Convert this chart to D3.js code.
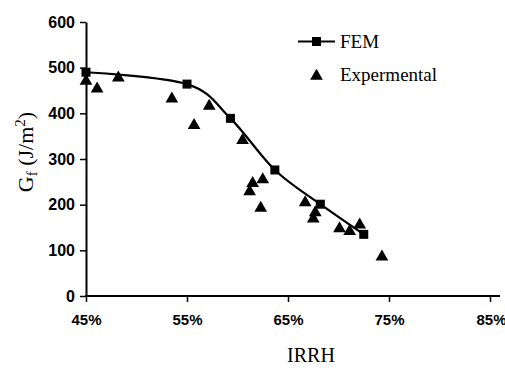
<!DOCTYPE html>
<html>
<head>
<meta charset="utf-8">
<script src="https://cdn.jsdelivr.net/npm/d3@7"></script>
<style>
  html, body { margin: 0; padding: 0; background: #fff; }
  svg { display: block; }
</style>
</head>
<body>
<svg id="chart" width="505" height="368"></svg>
<script>
// ---- data ----
const femX = [0.45, 0.55, 0.593, 0.637, 0.682, 0.725];
const femY = [490, 464, 389, 276, 201, 135];

const expX = [0.450, 0.461, 0.482, 0.535, 0.557, 0.572, 0.605, 0.625, 0.615, 0.612, 0.623, 0.667, 0.677, 0.675, 0.701, 0.711, 0.721, 0.743];
const expY = [474, 457, 481, 435, 377, 419, 344, 258, 250, 232, 196, 208, 186, 172, 151, 145, 159, 89];

const xTicks = [0.45, 0.55, 0.65, 0.75, 0.85];
const yTicks = [0, 100, 200, 300, 400, 500, 600];
const seriesNames = ["FEM", "Expermental"];

// ---- layout ----
const svg = d3.select("#chart");
const x = d3.scaleLinear().domain([0.45, 0.85]).range([86, 490]);
const y = d3.scaleLinear().domain([0, 600]).range([296, 22]);

const tickFont = "'Liberation Sans', Arial, sans-serif";
const serif = "'Liberation Serif', 'Times New Roman', serif";

// Y axis
const yAxis = svg.append("g")
  .attr("transform", `translate(${x(0.45)},0)`)
  .call(d3.axisLeft(y).tickValues(yTicks).tickSize(6).tickSizeOuter(0).tickPadding(5));
yAxis.select(".domain").attr("stroke", "#000").attr("stroke-width", 2);
yAxis.selectAll(".tick line").attr("stroke", "#000").attr("stroke-width", 1.5);
yAxis.selectAll(".tick text")
  .attr("font-family", tickFont).attr("font-size", 16).attr("font-weight", "bold")
  .attr("fill", "#000");

// X axis
const xAxis = svg.append("g")
  .attr("transform", `translate(0,${y(0)})`)
  .call(d3.axisBottom(x).tickValues(xTicks).tickFormat(d3.format(".0%")).tickSize(6).tickSizeOuter(0).tickPadding(12));
xAxis.select(".domain").remove();
xAxis.append("line")
  .attr("x1", x(0.45) - 1).attr("x2", x(0.85) + 10)
  .attr("y1", 0).attr("y2", 0)
  .attr("stroke", "#000").attr("stroke-width", 2);
xAxis.selectAll(".tick line").attr("stroke", "#000").attr("stroke-width", 1.5);
xAxis.selectAll(".tick text")
  .attr("font-family", tickFont).attr("font-size", 15).attr("font-weight", "bold")
  .attr("fill", "#000");
// keep the last label inside the window
xAxis.selectAll(".tick text").filter(d => d === 0.85).attr("text-anchor", "end").attr("dx", 16);

// axis titles
svg.append("text")
  .attr("x", 311).attr("y", 362)
  .attr("text-anchor", "middle")
  .attr("font-family", serif).attr("font-size", 20).attr("fill", "#000")
  .text("IRRH");

const yt = svg.append("text")
  .attr("transform", "translate(33,152) rotate(-90)")
  .attr("text-anchor", "middle")
  .attr("font-family", serif).attr("font-size", 22).attr("fill", "#000");
yt.append("tspan").text("G");
yt.append("tspan").attr("font-size", 15).attr("dy", 4).text("f");
yt.append("tspan").attr("dy", -4).text(" (J/m");
yt.append("tspan").attr("font-size", 15).attr("dy", -8).text("2");
yt.append("tspan").attr("dy", 8).text(")");

// FEM line
const fem = femX.map((d, i) => [d, femY[i]]);
svg.append("path")
  .datum(fem)
  .attr("fill", "none").attr("stroke", "#000").attr("stroke-width", 2.2)
  .attr("d", d3.line().x(d => x(d[0])).y(d => y(d[1])).curve(d3.curveCardinal.tension(0)));

// Experimental triangles
const tri = d3.symbol().type(d3.symbolTriangle).size(70);
const exp = expX.map((d, i) => [d, expY[i]]);
svg.append("g").selectAll("path")
  .data(exp).join("path")
  .attr("transform", d => `translate(${x(d[0])},${y(d[1]) + 1.5})`)
  .attr("d", tri).attr("fill", "#000");

// FEM squares
const sq = d3.symbol().type(d3.symbolSquare).size(81);
svg.append("g").selectAll("path")
  .data(fem).join("path")
  .attr("transform", d => `translate(${x(d[0])},${y(d[1])})`)
  .attr("d", sq).attr("fill", "#000");

// legend
const lg = svg.append("g");
lg.append("line").attr("x1", 298).attr("x2", 335).attr("y1", 41.5).attr("y2", 41.5)
  .attr("stroke", "#000").attr("stroke-width", 2.2);
lg.append("path").attr("transform", "translate(316.5,41.5)").attr("d", sq).attr("fill", "#000");
lg.append("text").attr("x", 340).attr("y", 48)
  .attr("font-family", serif).attr("font-size", 19).attr("fill", "#000").text(seriesNames[0]);
lg.append("path").attr("transform", "translate(316.5,76)").attr("d", tri).attr("fill", "#000");
lg.append("text").attr("x", 340).attr("y", 81)
  .attr("font-family", serif).attr("font-size", 19).attr("fill", "#000").text(seriesNames[1]);
</script>
</body>
</html>
